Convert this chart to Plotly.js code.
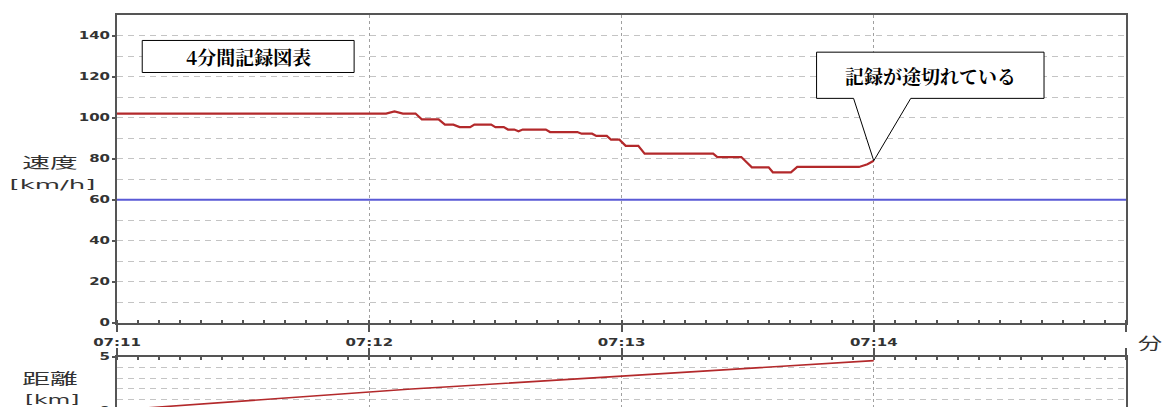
<!DOCTYPE html>
<html><head><meta charset="utf-8">
<script src="https://cdn.plot.ly/plotly-3.0.1.min.js"></script>
<style>html,body{margin:0;padding:0;overflow:hidden;background:#fff}</style>
</head><body>
<div id="chart" style="width:1166px;height:420px"></div>
<script>
// ---- data (x = seconds after 07:11:00) ----
const timeLabels = ["07:11", "07:12", "07:13", "07:14", ""];
const minuteSec = [0, 60, 120, 180, 240];
const halfMinuteSec = [30, 90, 150, 210];
const speedTicks = [0, 20, 40, 60, 80, 100, 120, 140];
const distTicks = [0, 5];

const speedSec = [0, 64, 66, 68, 71, 72.5, 76.5, 78, 80, 81.5, 84, 85, 89, 90, 92, 93, 94.5, 95.5, 96.5, 102, 103, 109.5, 110.5, 113, 114, 116.5, 117.5, 119.5, 121, 124, 125.5, 141.8, 142.8, 148.5, 151, 155, 156, 160.3, 161.8, 176.5, 178.5, 180];
const speedKmh = [102, 102, 103, 102, 102, 99.2, 99.2, 96.6, 96.6, 95.4, 95.4, 96.6, 96.6, 95.4, 95.4, 94.2, 94.2, 93.4, 94.2, 94.2, 93, 93, 92.2, 92.2, 91.1, 91.1, 89.3, 89.3, 86.3, 86.3, 82.5, 82.5, 80.8, 80.8, 75.8, 75.8, 73.4, 73.4, 76, 76, 77.3, 79];

const limitSec = [0, 240];
const limitKmh = [60, 60];

const distSec = [0, 10, 20, 30, 40, 50, 60, 70, 80, 90, 100, 110, 120, 130, 140, 150, 160, 170, 180];
const distKm = [0, 0.29, 0.58, 0.87, 1.15, 1.44, 1.72, 1.97, 2.21, 2.45, 2.71, 2.97, 3.22, 3.47, 3.71, 3.95, 4.18, 4.41, 4.63];

const titleText = "4分間記録図表";
const calloutText = "記録が途切れている";

// ---- styling ----
const RED = "#b3292b";
const BLUE = "#5a5ad6";
const AX = "#555";
const GRID = "#c4c4c4";
const tickFont = {family: "DejaVu Sans", size: 10, color: "#333", weight: "bold"};
const jpSans = '"Noto Sans CJK JP", sans-serif';
const jpSerif = '"Noto Serif CJK JP", "Liberation Serif", serif';

const traces = [
  {x: limitSec, y: limitKmh, xaxis: "x", yaxis: "y", mode: "lines", line: {color: BLUE, width: 2}, hoverinfo: "skip"},
  {x: speedSec, y: speedKmh, xaxis: "x", yaxis: "y", mode: "lines", line: {color: RED, width: 2.2}, hoverinfo: "skip"},
  {x: distSec, y: distKm, xaxis: "x2", yaxis: "y2", mode: "lines", line: {color: RED, width: 1.6}, hoverinfo: "skip"}
];

const baseX = {
  range: [0, 240], tickvals: minuteSec, ticks: "outside", ticklen: 7, tickwidth: 2, tickcolor: AX,
  showline: true, linecolor: AX, linewidth: 2, mirror: true,
  showgrid: true, gridcolor: "#a0a0a0", griddash: "dot", gridwidth: 1, zeroline: false,
  minor: {dtick: 5, tick0: 0, ticks: "inside", ticklen: 3, tickwidth: 2, tickcolor: AX, showgrid: false},
  fixedrange: true
};
const medX = {
  range: [0, 240], tickvals: halfMinuteSec, ticks: "outside", ticklen: 4, tickwidth: 2, tickcolor: AX,
  showticklabels: false, showline: false, showgrid: false, zeroline: false, fixedrange: true
};

const topBottom = 0.2203, botTop = 0.1349;

// callout geometry (data coords of top panel)
const cb = {x0: 166.4, x1: 220.5, y0: 109.4, y1: 131.9, w0: 175.2, w1: 188.8};
const tipX = speedSec[speedSec.length - 1], tipY = speedKmh[speedKmh.length - 1];
const calloutPath = `M ${cb.x0},${cb.y1} L ${cb.x1},${cb.y1} L ${cb.x1},${cb.y0} L ${cb.w1},${cb.y0} L ${tipX},${tipY} L ${cb.w0},${cb.y0} L ${cb.x0},${cb.y0} Z`;

const annotations = [
  {text: "速度", xref: "paper", yref: "paper", x: -0.0664, y: 0.6279, showarrow: false, xanchor: "center", yanchor: "middle", font: {family: jpSans, size: 15, color: "#333"}},
  {text: "[km/h]", xref: "paper", yref: "paper", x: -0.0644, y: 0.5721, showarrow: false, xanchor: "center", yanchor: "middle", font: {family: "DejaVu Sans", size: 13, color: "#333"}},
  {text: "距離", xref: "paper", yref: "paper", x: -0.0664, y: 0.0835, showarrow: false, xanchor: "center", yanchor: "middle", font: {family: jpSans, size: 15, color: "#333"}},
  {text: "[km]", xref: "paper", yref: "paper", x: -0.0644, y: 0.0254, showarrow: false, xanchor: "center", yanchor: "middle", font: {family: "DejaVu Sans", size: 13, color: "#333"}},
  {text: "分", xref: "paper", yref: "paper", x: 1.0238, y: 0.1722, showarrow: false, xanchor: "center", yanchor: "middle", font: {family: jpSans, size: 16, color: "#333"}},
  {text: titleText, xref: "x", yref: "y", x: 31.2, y: 129.8, showarrow: false, xanchor: "center", yanchor: "middle", font: {family: jpSerif, size: 19, color: "#000", weight: "bold"}},
  {text: calloutText, xref: "x", yref: "y", x: 193.4, y: 120.6, showarrow: false, xanchor: "center", yanchor: "middle", font: {family: jpSerif, size: 19, color: "#000", weight: "bold"}}
];
const stretch = {0: 1.85, 1: 2.0, 2: 1.85, 3: 1.8, 4: 1.5};

const layout = {
  width: 1166, height: 420,
  margin: {l: 117, r: 40, t: 15, b: 10},
  paper_bgcolor: "#fff", plot_bgcolor: "#fff", showlegend: false,
  xaxis: Object.assign({}, baseX, {domain: [0, 1], anchor: "y", ticktext: timeLabels, tickfont: tickFont, ticklabelstandoff: 2}),
  yaxis: {
    domain: [topBottom, 1], anchor: "x", range: [0, 150], tickvals: speedTicks, tickfont: tickFont,
    ticks: "outside", ticklen: 3, tickwidth: 2, tickcolor: AX,
    showline: true, linecolor: AX, linewidth: 2, mirror: true,
    showgrid: true, gridcolor: GRID, griddash: "6px,5px", gridwidth: 1, zeroline: false,
    minor: {dtick: 10, tick0: 0, showgrid: true, gridcolor: GRID, griddash: "6px,5px", gridwidth: 1, ticks: ""},
    fixedrange: true
  },
  xaxis2: Object.assign({}, baseX, {domain: [0, 1], anchor: "y2", side: "top", showticklabels: false}),
  yaxis2: {
    domain: [0, botTop], anchor: "x2", range: [0, 5], tickvals: distTicks, tickfont: tickFont,
    ticks: "outside", ticklen: 3, tickwidth: 2, tickcolor: AX,
    showline: true, linecolor: AX, linewidth: 2, mirror: true,
    showgrid: true, gridcolor: GRID, griddash: "6px,5px", gridwidth: 1, zeroline: false,
    minor: {dtick: 1, tick0: 0, showgrid: true, gridcolor: GRID, griddash: "6px,5px", gridwidth: 1, ticks: ""},
    fixedrange: true
  },
  xaxis3: Object.assign({}, medX, {overlaying: "x", anchor: "y", side: "bottom"}),
  xaxis4: Object.assign({}, medX, {overlaying: "x2", anchor: "y2", side: "top"}),
  shapes: [
    {type: "rect", xref: "x", yref: "y", x0: 6, x1: 56.4, y0: 122, y1: 137.6, line: {color: "#000", width: 1}, fillcolor: "#fff", layer: "above"},
    {type: "path", xref: "x", yref: "y", path: calloutPath, line: {color: "#000", width: 1}, fillcolor: "#fff", layer: "above"}
  ],
  annotations: annotations
};

function stretchText(el, sx) {
  if (!el) return;
  const cur = el.getAttribute("transform") || "";
  if (cur.indexOf("scale(") !== -1) return;
  const x = parseFloat(el.getAttribute("x")) || 0;
  const y = parseFloat(el.getAttribute("y")) || 0;
  el.setAttribute("transform", (cur + ` translate(${x} ${y}) scale(${sx} 1) translate(${-x} ${-y})`).trim());
}
function applyStretch() {
  const root = document.getElementById("chart");
  root.querySelectorAll(".xtick text, .ytick text, .y2tick text").forEach(t => stretchText(t, 1.5));
  Object.keys(stretch).forEach(i => {
    const t = root.querySelector(`.annotation[data-index="${i}"] text.annotation-text`);
    stretchText(t, stretch[i]);
  });
}

Plotly.newPlot("chart", traces, layout, {displayModeBar: false, staticPlot: true}).then(gd => {
  applyStretch();
  gd.on("plotly_afterplot", applyStretch);
});
</script>
</body></html>
